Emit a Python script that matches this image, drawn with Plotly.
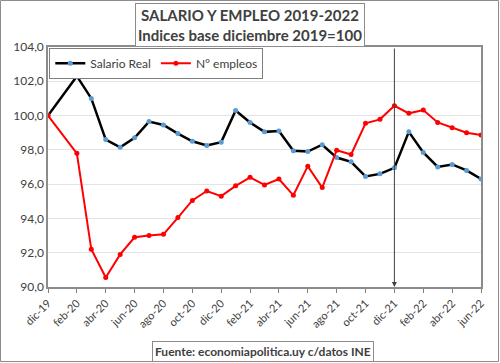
import plotly.graph_objects as go

months = ["dic-19", "ene-20", "feb-20", "mar-20", "abr-20", "may-20", "jun-20", "jul-20",
          "ago-20", "sep-20", "oct-20", "nov-20", "dic-20", "ene-21", "feb-21", "mar-21",
          "abr-21", "may-21", "jun-21", "jul-21", "ago-21", "sep-21", "oct-21", "nov-21",
          "dic-21", "ene-22", "feb-22", "mar-22", "abr-22", "may-22", "jun-22"]
salario_real = [100.0, None, 102.3, 101.0, 98.6, 98.15, 98.7, 99.65, 99.45, 98.95, 98.5,
                98.25, 98.45, 100.3, 99.6, 99.05, 99.1, 97.95, 97.9, 98.3, 97.55, 97.3,
                96.45, 96.6, 96.95, 99.05, 97.85, 97.0, 97.15, 96.8, 96.3]
empleos = [100.0, None, 97.8, 92.2, 90.55, 91.9, 92.9, 93.0, 93.07, 94.05, 95.05, 95.6,
           95.3, 95.9, 96.4, 95.95, 96.3, 95.35, 97.05, 95.8, 97.98, 97.73, 99.55, 99.78,
           100.57, 100.13, 100.32, 99.6, 99.29, 99.0, 98.86]
tick_labels = ["dic-19", "feb-20", "abr-20", "jun-20", "ago-20", "oct-20", "dic-20", "feb-21",
               "abr-21", "jun-21", "ago-21", "oct-21", "dic-21", "feb-22", "abr-22", "jun-22"]
y_ticks = [90, 92, 94, 96, 98, 100, 102, 104]

FONT = "Lato"
TXT = "#404040"

fig = go.Figure()
fig.add_trace(go.Scatter(
    x=months, y=salario_real, name="Salario Real", mode="lines+markers",
    connectgaps=True,
    line=dict(color="black", width=2.5),
    marker=dict(color="#5B9BD5", size=5),
))
fig.add_trace(go.Scatter(
    x=months, y=empleos, name="N° empleos", mode="lines+markers",
    connectgaps=True,
    line=dict(color="#FF0000", width=2),
    marker=dict(color="#FF0000", size=5),
))

L, R, T, B = 48, 19, 47, 76
W, H = 500, 363
pw, ph = W - L - R, H - T - B

fig.update_layout(
    width=W, height=H,
    margin=dict(l=L, r=R, t=T, b=B),
    paper_bgcolor="white", plot_bgcolor="white",
    separators=",.",
    font=dict(family=FONT, color=TXT),
    showlegend=True,
    legend=dict(
        orientation="h", x=0.003, y=0.997, xanchor="left", yanchor="top",
        bgcolor="white", bordercolor="#7f7f7f", borderwidth=1,
        font=dict(family=FONT, size=12, color=TXT),
        itemwidth=30, tracegroupgap=0,
    ),
    xaxis=dict(
        type="category", categoryorder="array", categoryarray=months,
        range=[0, 30],
        tickmode="array", tickvals=tick_labels, ticktext=tick_labels,
        tickangle=-45, ticks="outside", ticklen=4, tickcolor="#7f7f7f",
        tickfont=dict(family=FONT, size=11, color=TXT),
        showgrid=False, showline=True, linecolor="#8c8c8c", linewidth=1.5, mirror=True,
        zeroline=False,
    ),
    yaxis=dict(
        range=[90, 104], tickmode="array", tickvals=y_ticks, tickformat=".1f",
        tickfont=dict(family=FONT, size=12, color=TXT),
        showgrid=True, gridcolor="#e3e3e3", gridwidth=1,
        showline=True, linecolor="#8c8c8c", linewidth=1.5, mirror=True,
        zeroline=False, ticks="",
    ),
)

# Vertical arrow at dic-21
fig.add_annotation(
    x="dic-21", y=90, ax="dic-21", ay=104, xref="x", yref="y", axref="x", ayref="y",
    text="", showarrow=True, arrowhead=2, arrowsize=1, arrowwidth=1, arrowcolor="#404040",
)

# Title box
fig.add_annotation(
    text="<b>SALARIO Y EMPLEO 2019-2022</b><br><b>Indices base diciembre 2019=100</b>",
    xref="paper", yref="paper", x=(250 - L) / pw, y=1 + (T - 3) / ph,
    xanchor="center", yanchor="top", showarrow=False,
    font=dict(family=FONT, size=15, color=TXT),
    bgcolor="white", bordercolor="#8c8c8c", borderwidth=1, borderpad=2,
)

# Source box
fig.add_annotation(
    text="<b>Fuente: economiapolitica.uy c/datos INE</b>",
    xref="paper", yref="paper", x=(263 - L) / pw, y=-(351 - T - ph) / ph,
    xanchor="center", yanchor="middle", showarrow=False,
    font=dict(family=FONT, size=12, color=TXT),
    bgcolor="white", bordercolor="#8c8c8c", borderwidth=1, borderpad=2,
)

# Outer border
fig.add_shape(
    type="rect", xref="paper", yref="paper",
    x0=-(L - 0.5) / pw, x1=1 + (R - 1.5) / pw,
    y0=-(B - 1.5) / ph, y1=1 + (T - 0.5) / ph,
    line=dict(color="#8c8c8c", width=1), fillcolor="rgba(0,0,0,0)", layer="below",
)

fig.write_html(
    "out.html",
    config={"displayModeBar": False},
    post_script="document.body.style.margin='0';document.body.style.padding='0';",
)
